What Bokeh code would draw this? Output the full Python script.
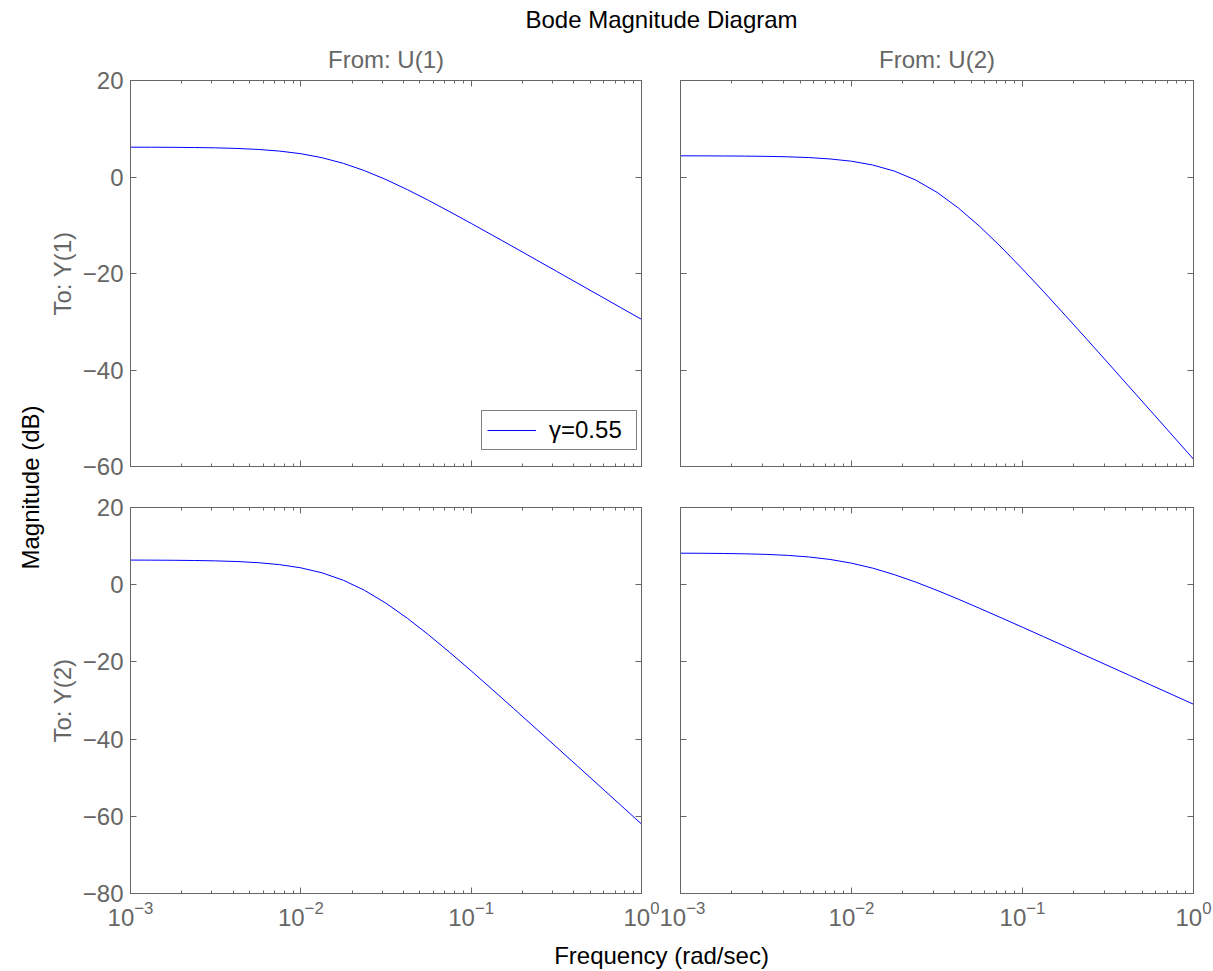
from math import pi
from bokeh.plotting import figure
from bokeh.layouts import column, row
from bokeh.models import (Range1d, LogAxis, LinearAxis, FixedTicker, Legend, LegendItem)
from bokeh.embed import file_html
from bokeh.resources import INLINE
from bokeh.core.properties import value

# ---------------- data ----------------
freq = [0.001, 0.00133, 0.00178, 0.00237, 0.00316, 0.00422, 0.00562, 0.0075,
        0.01, 0.0133, 0.0178, 0.0237, 0.0316, 0.0422, 0.0562, 0.075,
        0.1, 0.133, 0.178, 0.237, 0.316, 0.422, 0.562, 0.75, 1.0]

mag_u1_y1 = [6.18, 6.17, 6.15, 6.11, 6.04, 5.92, 5.71, 5.37,
             4.83, 4.00, 2.82, 1.30, -0.53, -2.62, -4.85, -7.21,
             -9.62, -12.05, -14.54, -17.02, -19.51, -22.02, -24.50, -27.01, -29.50]

mag_u2_y1 = [4.39, 4.38, 4.36, 4.33, 4.28, 4.19, 4.03, 3.74,
             3.27, 2.49, 1.23, -0.62, -3.17, -6.43, -10.24, -14.52,
             -19.08, -23.77, -28.69, -33.57, -38.52, -43.53, -48.48, -53.49, -58.48]

mag_u1_y2 = [6.38, 6.36, 6.33, 6.27, 6.17, 6.00, 5.71, 5.20,
             4.37, 3.08, 1.14, -1.48, -4.79, -8.69, -12.98, -17.57,
             -22.32, -27.14, -32.12, -37.05, -42.02, -47.02, -52.00, -57.00, -62.00]

mag_u2_y2 = [8.16, 8.14, 8.09, 8.00, 7.86, 7.60, 7.19, 6.54,
             5.58, 4.29, 2.61, 0.69, -1.46, -3.76, -6.13, -8.57,
             -11.02, -13.48, -16.00, -18.48, -20.97, -23.48, -25.97, -28.47, -30.97]

x_major_ticks = [0.001, 0.01, 0.1, 1.0]
y_ticks_top = [-60, -40, -20, 0, 20]
y_labels_top = ["\u221260", "\u221240", "\u221220", "0", "20"]
y_ticks_bottom = [-80, -60, -40, -20, 0, 20]
y_labels_bottom = ["\u221280", "\u221260", "\u221240", "\u221220", "0", "20"]

title_text = "Bode Magnitude Diagram"
xlabel_text = "Frequency (rad/sec)"
ylabel_text = "Magnitude (dB)"
col_titles = ["From: U(1)", "From: U(2)"]
row_titles = ["To: Y(1)", "To: Y(2)"]
legend_label = "\u03b3=0.55"

# ---------------- style ----------------
FONT = "Liberation Sans"
FS = "24px"
GRAY = "#666666"
BLUE = "#0000ff"

x_minor_ticks = [m * d for d in (0.001, 0.01, 0.1) for m in range(2, 10)]


def style_axis(ax, labels, minor):
    ax.axis_line_color = GRAY
    ax.axis_line_width = 1
    ax.major_tick_line_color = GRAY
    ax.major_tick_in = 6
    ax.major_tick_out = 0
    if minor:
        ax.minor_tick_line_color = GRAY
        ax.minor_tick_in = 3
        ax.minor_tick_out = 0
    else:
        ax.minor_tick_line_color = None
    ax.major_label_text_font = FONT
    if labels:
        ax.major_label_text_color = GRAY
        ax.major_label_text_font_size = FS
        ax.major_label_standoff = 7
    else:
        ax.major_label_text_color = None
        ax.major_label_text_font_size = "1px"
        ax.major_label_standoff = 0


def panel(w, h, borders, yr, yticks, ylabels, mags, title=None, ylab=None,
          show_x=False, show_y=False):
    l, r, t, b = borders
    p = figure(width=w, height=h, x_axis_type="log", x_axis_location=None,
               y_axis_location=None, x_range=Range1d(1e-3, 1.0),
               y_range=Range1d(*yr), toolbar_location=None,
               output_backend="svg", title=title,
               min_border_left=l, min_border_right=r,
               min_border_top=t, min_border_bottom=b)
    p.outline_line_color = GRAY
    p.background_fill_color = "white"
    p.border_fill_color = "white"
    p.xgrid.visible = False
    p.ygrid.visible = False
    if title is not None:
        p.title.align = "center"
        p.title.text_font = FONT
        p.title.text_font_size = FS
        p.title.text_font_style = "normal"
        p.title.text_color = GRAY
        p.title.standoff = 15

    xt = FixedTicker(ticks=x_major_ticks, minor_ticks=x_minor_ticks)
    yt = FixedTicker(ticks=yticks)
    overrides = {v: s for v, s in zip(yticks, ylabels)}

    xb = LogAxis(ticker=xt)
    style_axis(xb, show_x, True)
    xa = LogAxis(ticker=xt)
    style_axis(xa, False, True)
    yl = LinearAxis(ticker=yt, major_label_overrides=overrides)
    style_axis(yl, show_y, False)
    yrr = LinearAxis(ticker=yt)
    style_axis(yrr, False, False)
    if ylab is not None:
        yl.axis_label = ylab
        yl.axis_label_text_font = FONT
        yl.axis_label_text_font_size = FS
        yl.axis_label_text_font_style = "normal"
        yl.axis_label_text_color = GRAY
        yl.axis_label_standoff = 4

    p.add_layout(xb, "below")
    p.add_layout(xa, "above")
    p.add_layout(yl, "left")
    p.add_layout(yrr, "right")

    rline = p.line(freq, mags, line_color=BLUE, line_width=1)
    return p, rline


HEAD = 34                  # header height
LW, RW = 614, 554          # widths of left/right column figures
TH, BH = 452, 455          # heights of top/bottom row figures

tl, tl_line = panel(LW, TH, (84, 18, 46, 20), (-60, 20), y_ticks_top, y_labels_top,
                    mag_u1_y1, title=col_titles[0], ylab=row_titles[0], show_y=True)
tr, _ = panel(RW, TH, (21, 20, 46, 20), (-60, 20), y_ticks_top, y_labels_top,
              mag_u2_y1, title=col_titles[1])
bl, _ = panel(LW, BH, (84, 18, 21, 48), (-80, 20), y_ticks_bottom, y_labels_bottom,
              mag_u1_y2, ylab=row_titles[1], show_x=True, show_y=True)
br, _ = panel(RW, BH, (21, 20, 21, 48), (-80, 20), y_ticks_bottom, y_labels_bottom,
              mag_u2_y2, show_x=True)

legend = Legend(items=[LegendItem(label=legend_label, renderers=[tl_line])],
                location=(351, 16))
legend.padding = 5
legend.glyph_width = 49
legend.label_standoff = 13
legend.label_width = 82
legend.label_text_font = FONT
legend.label_text_font_size = FS
legend.label_text_color = "black"
legend.border_line_color = "black"
legend.border_line_width = 1
legend.background_fill_color = "white"
legend.background_fill_alpha = 1.0
legend.spacing = 0
tl.add_layout(legend, "center")


def text_fig(w, h, x, y, txt, angle=0.0):
    f = figure(width=w, height=h, x_range=Range1d(0, w), y_range=Range1d(0, h),
               toolbar_location=None, output_backend="svg", min_border=0,
               x_axis_location=None, y_axis_location=None)
    f.outline_line_color = None
    f.background_fill_color = "white"
    f.border_fill_color = "white"
    f.xgrid.visible = False
    f.ygrid.visible = False
    f.text(x=[x], y=[y], text=[txt], angle=angle, text_align="center",
           text_baseline="middle", text_font=value(FONT),
           text_font_size=value(FS), text_color="black")
    return f


header = text_fig(1213, HEAD, 661, HEAD - 19, title_text)
footer = text_fig(1213, 30, 661, 16, xlabel_text)
side = text_fig(45, TH + BH, 30, TH + BH - (487 - HEAD), ylabel_text, angle=pi / 2)

layout = column(header,
                row(side, column(row(tl, tr), row(bl, br))),
                footer)

open("out.html", "w").write(file_html(layout, INLINE))
